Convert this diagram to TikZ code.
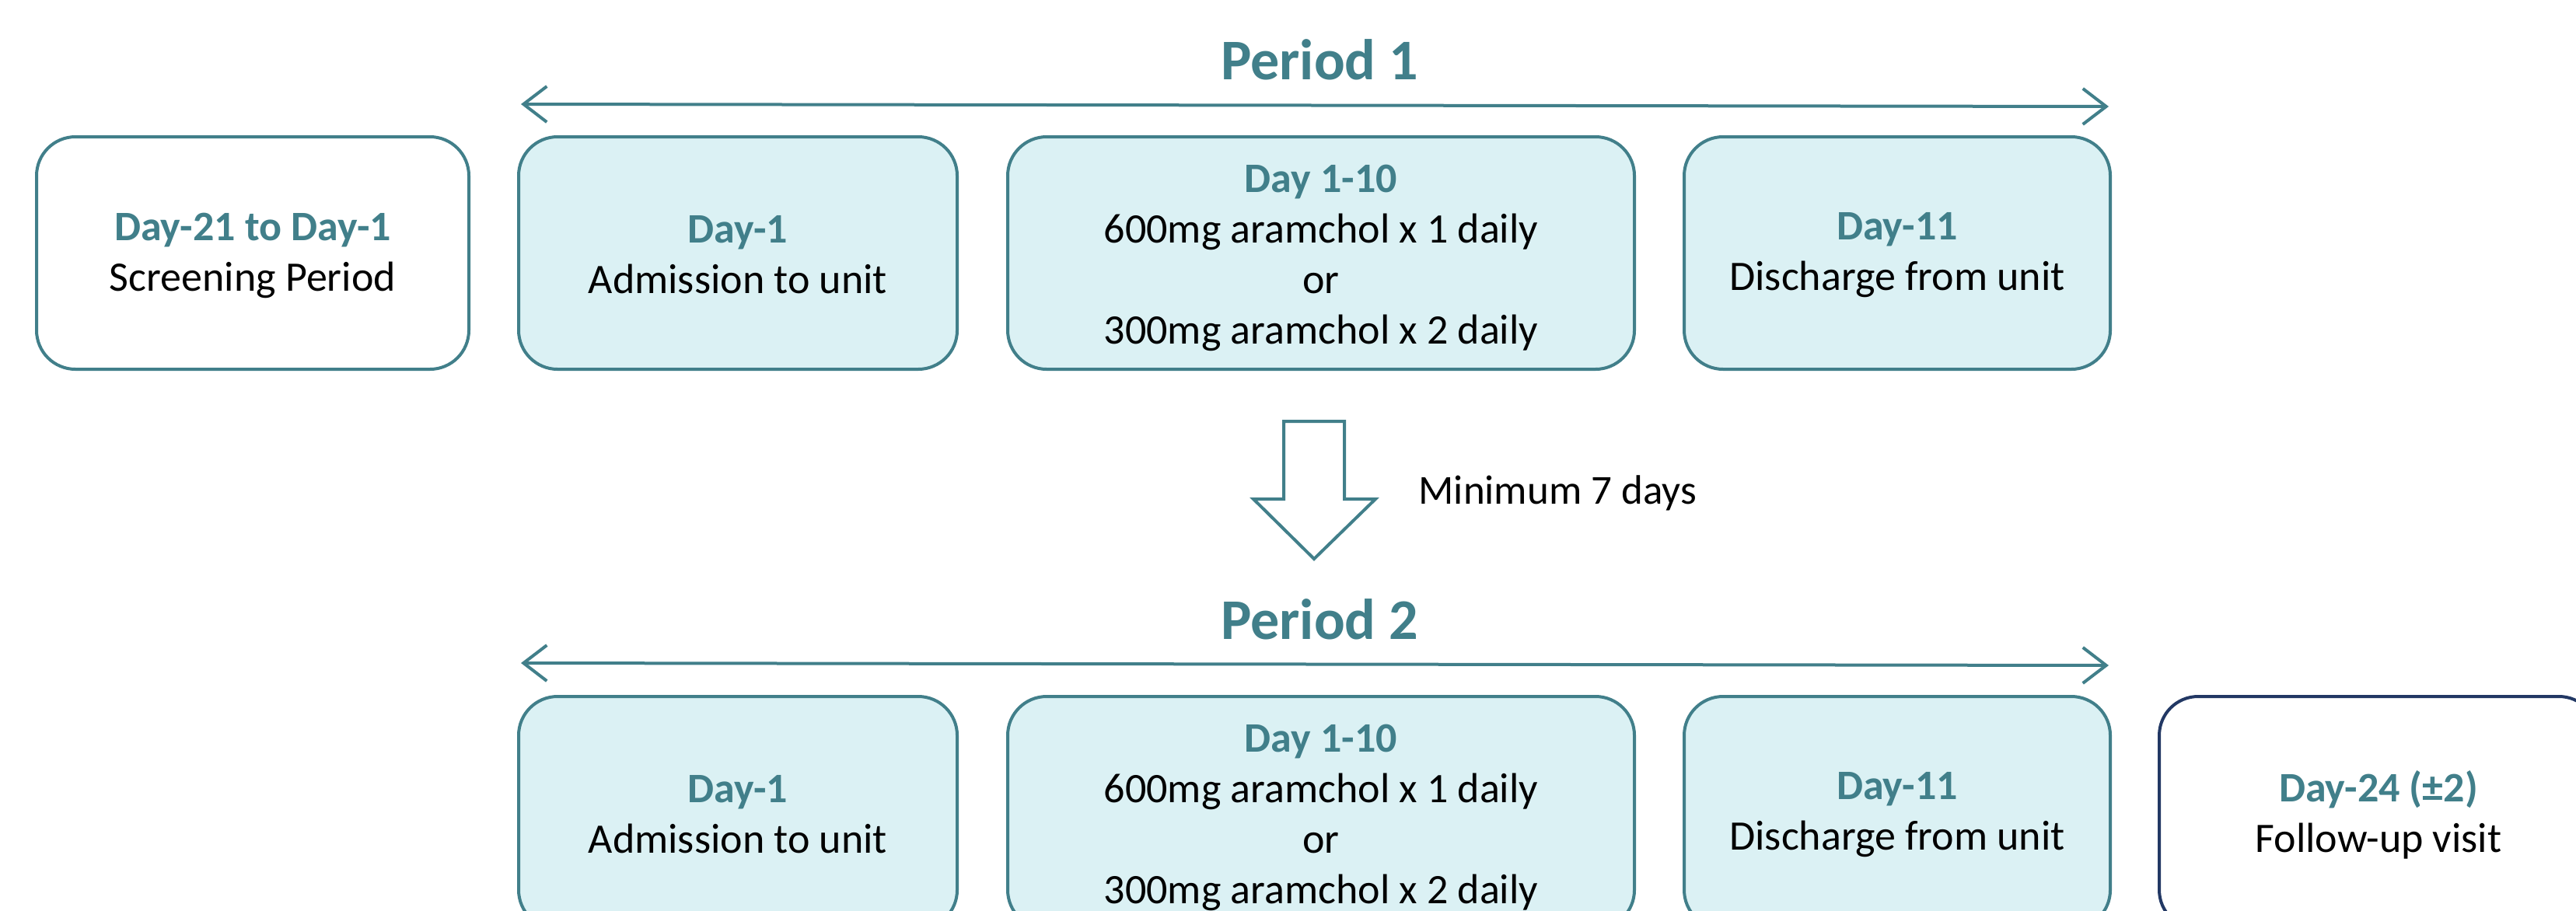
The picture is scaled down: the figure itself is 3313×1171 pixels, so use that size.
\documentclass[tikz,border=0pt]{standalone}
\usepackage{fontspec}
\setmainfont{Carlito}
\usetikzlibrary{arrows.meta}
\definecolor{tealc}{RGB}{65,127,138}
\definecolor{fillc}{RGB}{219,241,244}
\definecolor{navyc}{RGB}{34,56,100}
\begin{document}
\begin{tikzpicture}[x=1pt,y=-1pt,
  box/.style={draw=tealc, line width=4pt, rounded corners=50pt, minimum height=299pt, inner sep=0pt},
  filledbox/.style={box, fill=fillc},
  navybox/.style={box, draw=navyc, fill=white},
  txt/.style={align=center, inner sep=0pt, font=\fontsize{54}{65}\selectfont},
  ptitle/.style={anchor=base, text=tealc, font=\fontsize{74}{88}\selectfont\bfseries},
  span/.style={draw=tealc, line width=4pt, {Straight Barb[length=30pt,width=46pt]}-{Straight Barb[length=30pt,width=46pt]}},
  note/.style={anchor=base west, font=\fontsize{53}{65}\selectfont}
]
\useasboundingbox (0,0) rectangle (3313,1171);
\clip (0,0) rectangle (3313,1171);
\newcommand{\hd}[1]{\textbf{\textcolor{tealc}{#1}}}

% Period 1
\node[ptitle] (t1) at (1697,102) {Period 1};
\coordinate (a1l) at (670,134);
\coordinate (a1r) at (2712,137);
\draw[span] (a1l) -- (a1r);

\node[box, minimum width=556pt] (scr) at (325,325.5) {};
\node[txt] (scrt) at ([yshift=-3pt]scr.center) {\hd{Day-21 to Day-1}\\Screening Period};
\node[filledbox, minimum width=564pt] (adm1) at (949,325.5) {};
\node[txt] (adm1t) at ([yshift=-2pt]adm1.center) {\hd{Day-1}\\Admission to unit};
\node[filledbox, minimum width=806pt] (dose1) at (1699,325.5) {};
\node[txt] (dose1t) at ([yshift=-6pt]dose1.center) {\hd{Day 1-10}\\600mg aramchol x 1 daily\\or\\300mg aramchol x 2 daily};
\node[filledbox, minimum width=548pt] (dis1) at (2440,325.5) {};
\node[txt] (dis1t) at ([yshift=-3pt]dis1.center) {\hd{Day-11}\\Discharge from unit};

% washout arrow
\draw[tealc, line width=4pt, fill=white, line join=miter]
  (1651,542) -- (1729,542) -- (1729,642) -- (1769,642) -- (1690,719) -- (1612,642) -- (1651,642) -- cycle;
\node[note] (wash) at (1821,648) {Minimum 7 days};

% Period 2
\node[ptitle] (t2) at (1697,822) {Period 2};
\coordinate (a2l) at (670,853);
\coordinate (a2r) at (2712,856);
\draw[span] (a2l) -- (a2r);

\node[filledbox, minimum width=564pt] (adm2) at (949,1045.5) {};
\node[txt] (adm2t) at ([yshift=-2pt]adm2.center) {\hd{Day-1}\\Admission to unit};
\node[filledbox, minimum width=806pt] (dose2) at (1699,1045.5) {};
\node[txt] (dose2t) at ([yshift=-6pt]dose2.center) {\hd{Day 1-10}\\600mg aramchol x 1 daily\\or\\300mg aramchol x 2 daily};
\node[filledbox, minimum width=548pt] (dis2) at (2440,1045.5) {};
\node[txt] (dis2t) at ([yshift=-3pt]dis2.center) {\hd{Day-11}\\Discharge from unit};
\node[navybox, minimum width=564pt] (fu) at (3059,1045.5) {};
\node[txt] (fut) at ([yshift=-3pt]fu.center) {\hd{Day-24 (±2)}\\Follow-up visit};
\end{tikzpicture}
\end{document}
